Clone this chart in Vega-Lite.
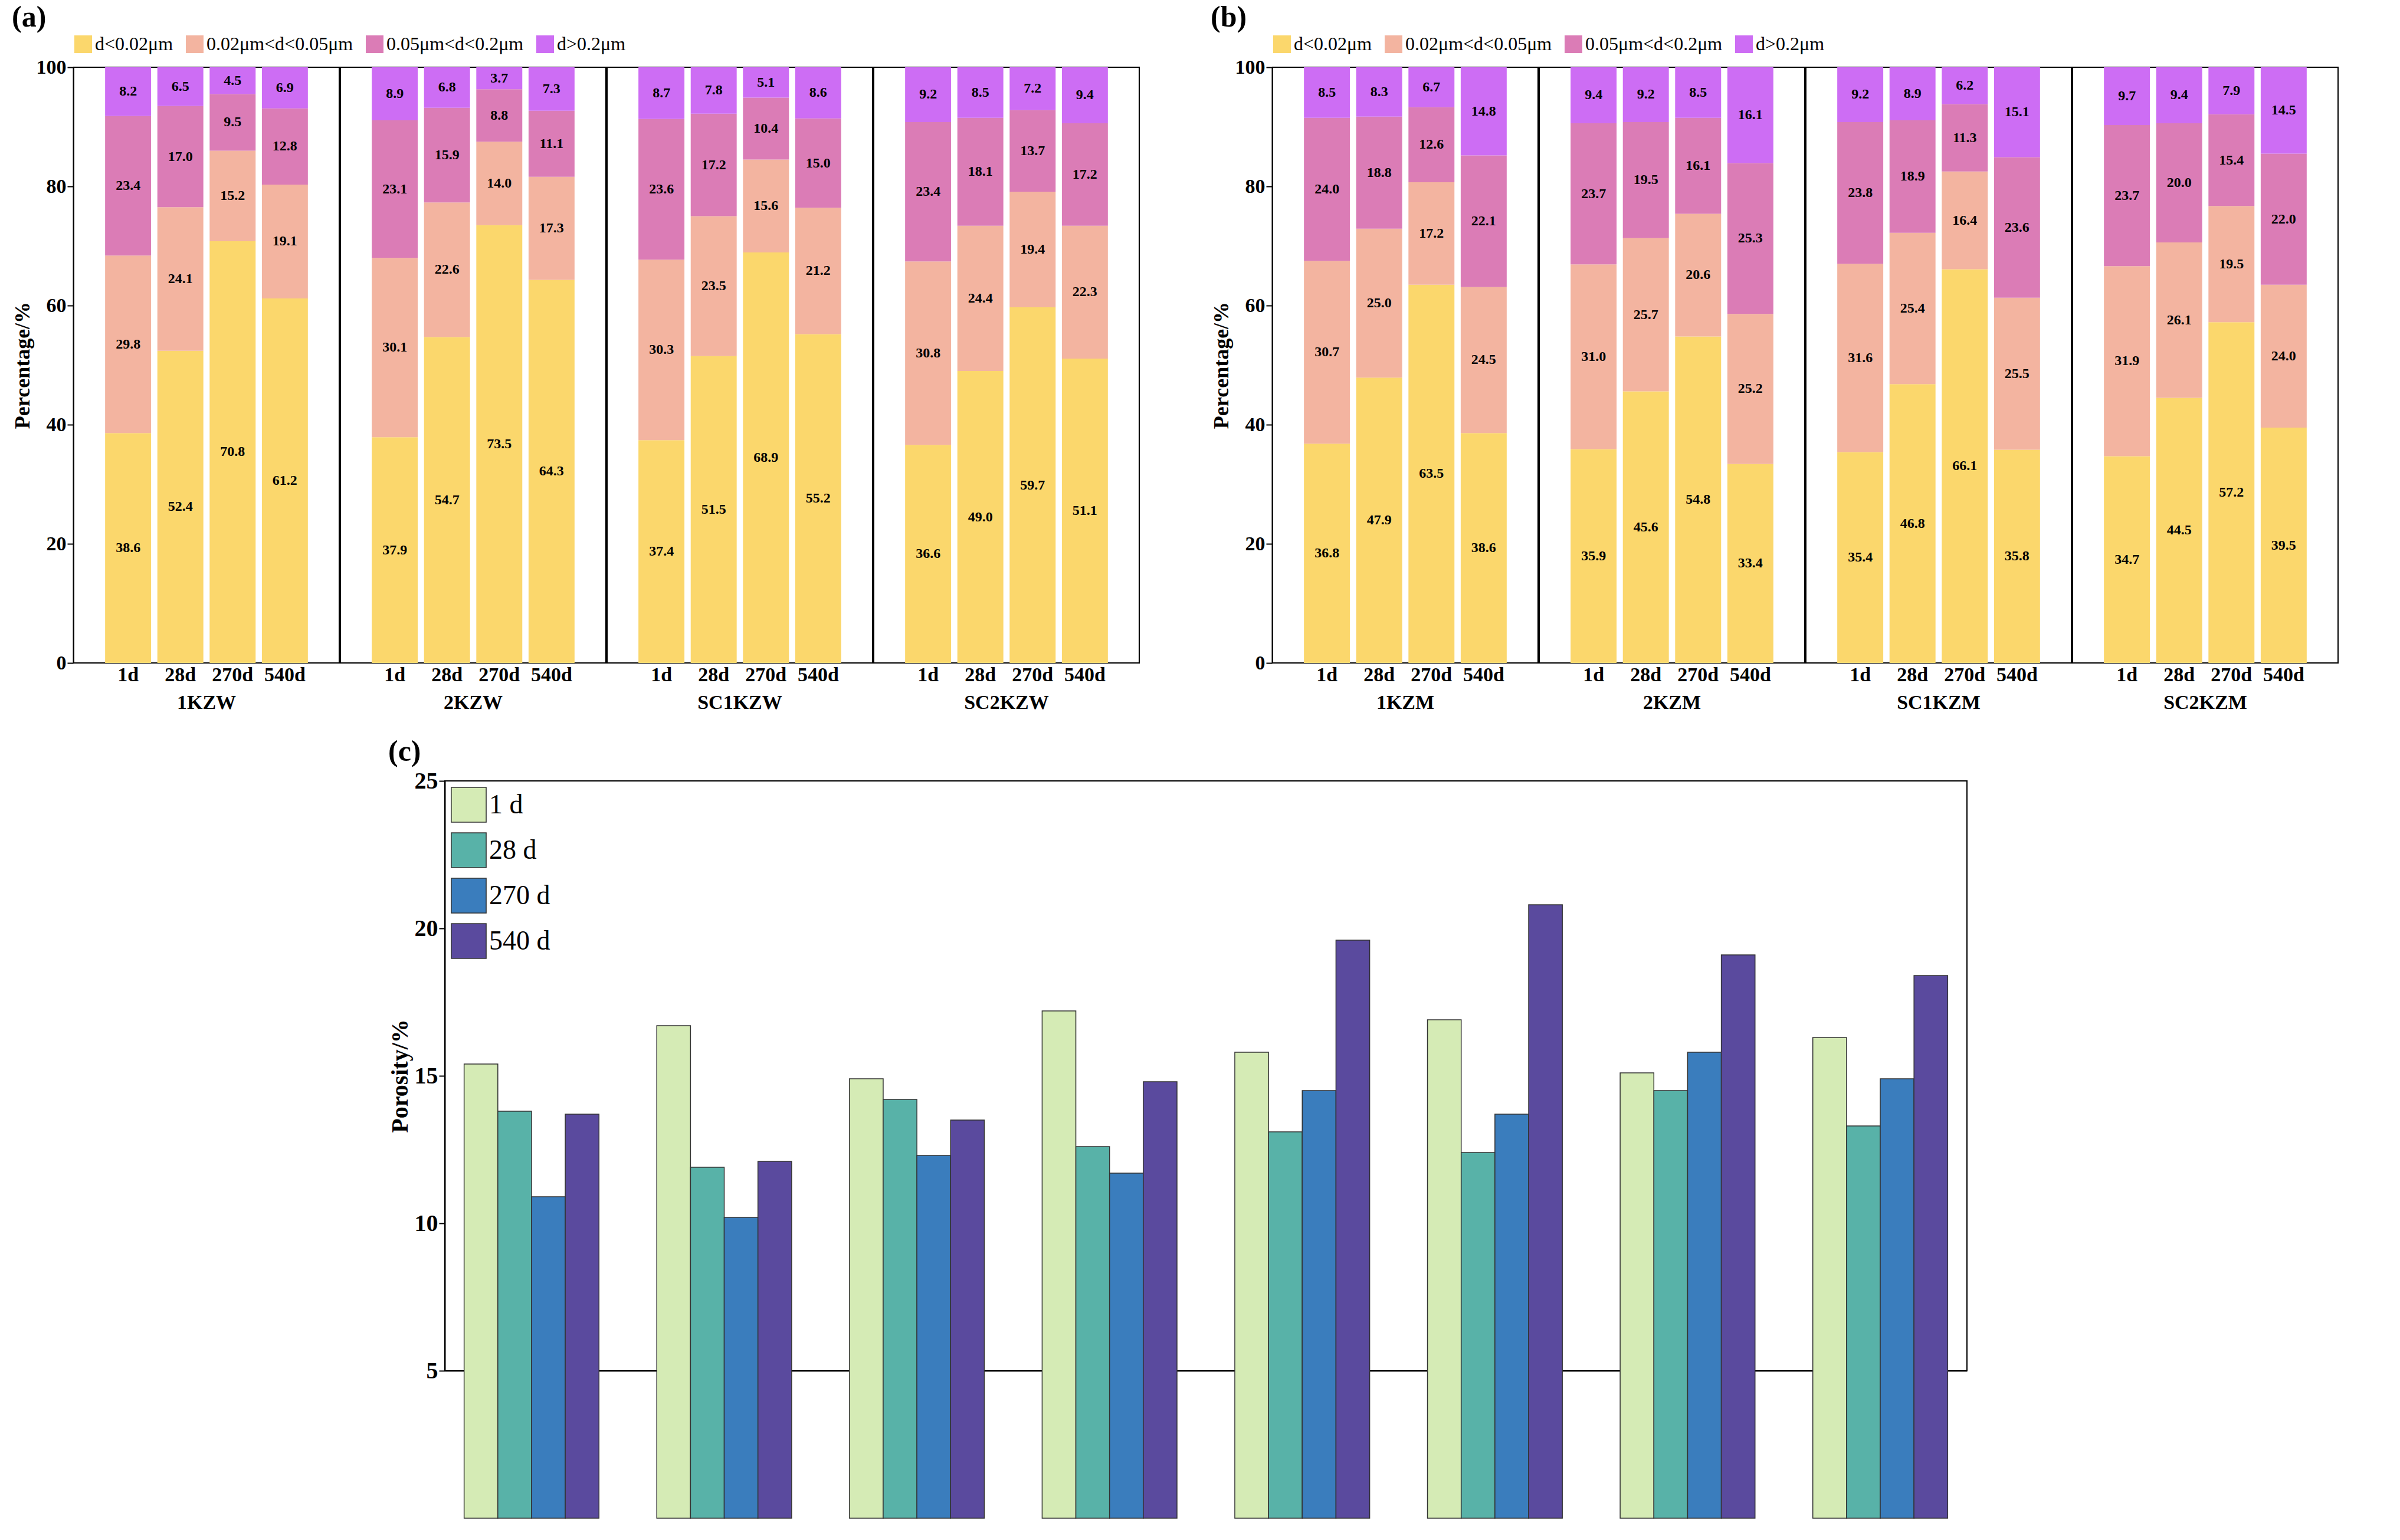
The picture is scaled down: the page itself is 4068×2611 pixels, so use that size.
{
  "$schema": "https://vega.github.io/schema/vega-lite/v6.json",
  "background": "white",
  "padding": {"left": 20, "top": 5, "right": 20, "bottom": 5},
  "config": {
    "font": "Liberation Serif",
    "view": {"stroke": "black", "strokeWidth": 2},
    "axis": {"grid": false, "domainColor": "black", "tickColor": "black", "labelColor": "black", "titleColor": "black", "labelFontSize": 34, "titleFontSize": 36, "labelFontWeight": "bold", "titleFontWeight": "bold", "domainWidth": 2, "tickWidth": 2, "tickSize": 10},
    "header": {"labelFontSize": 34, "labelFontWeight": "bold", "labelColor": "black"},
    "legend": {"labelFontSize": 32, "labelColor": "black", "labelLimit": 0, "symbolType": "square", "symbolSize": 900, "symbolStrokeWidth": 0},
    "title": {"fontSize": 50, "fontWeight": "bold", "anchor": "start", "color": "black", "offset": 4}
  },
  "datasets": {
    "pores": [
      {"panel": "a", "group": "1KZW", "age": "1d", "s1": 38.6, "s2": 29.8, "s3": 23.4, "s4": 8.2},
      {"panel": "a", "group": "1KZW", "age": "28d", "s1": 52.4, "s2": 24.1, "s3": 17.0, "s4": 6.5},
      {"panel": "a", "group": "1KZW", "age": "270d", "s1": 70.8, "s2": 15.2, "s3": 9.5, "s4": 4.5},
      {"panel": "a", "group": "1KZW", "age": "540d", "s1": 61.2, "s2": 19.1, "s3": 12.8, "s4": 6.9},
      {"panel": "a", "group": "2KZW", "age": "1d", "s1": 37.9, "s2": 30.1, "s3": 23.1, "s4": 8.9},
      {"panel": "a", "group": "2KZW", "age": "28d", "s1": 54.7, "s2": 22.6, "s3": 15.9, "s4": 6.8},
      {"panel": "a", "group": "2KZW", "age": "270d", "s1": 73.5, "s2": 14.0, "s3": 8.8, "s4": 3.7},
      {"panel": "a", "group": "2KZW", "age": "540d", "s1": 64.3, "s2": 17.3, "s3": 11.1, "s4": 7.3},
      {"panel": "a", "group": "SC1KZW", "age": "1d", "s1": 37.4, "s2": 30.3, "s3": 23.6, "s4": 8.7},
      {"panel": "a", "group": "SC1KZW", "age": "28d", "s1": 51.5, "s2": 23.5, "s3": 17.2, "s4": 7.8},
      {"panel": "a", "group": "SC1KZW", "age": "270d", "s1": 68.9, "s2": 15.6, "s3": 10.4, "s4": 5.1},
      {"panel": "a", "group": "SC1KZW", "age": "540d", "s1": 55.2, "s2": 21.2, "s3": 15.0, "s4": 8.6},
      {"panel": "a", "group": "SC2KZW", "age": "1d", "s1": 36.6, "s2": 30.8, "s3": 23.4, "s4": 9.2},
      {"panel": "a", "group": "SC2KZW", "age": "28d", "s1": 49.0, "s2": 24.4, "s3": 18.1, "s4": 8.5},
      {"panel": "a", "group": "SC2KZW", "age": "270d", "s1": 59.7, "s2": 19.4, "s3": 13.7, "s4": 7.2},
      {"panel": "a", "group": "SC2KZW", "age": "540d", "s1": 51.1, "s2": 22.3, "s3": 17.2, "s4": 9.4},
      {"panel": "b", "group": "1KZM", "age": "1d", "s1": 36.8, "s2": 30.7, "s3": 24.0, "s4": 8.5},
      {"panel": "b", "group": "1KZM", "age": "28d", "s1": 47.9, "s2": 25.0, "s3": 18.8, "s4": 8.3},
      {"panel": "b", "group": "1KZM", "age": "270d", "s1": 63.5, "s2": 17.2, "s3": 12.6, "s4": 6.7},
      {"panel": "b", "group": "1KZM", "age": "540d", "s1": 38.6, "s2": 24.5, "s3": 22.1, "s4": 14.8},
      {"panel": "b", "group": "2KZM", "age": "1d", "s1": 35.9, "s2": 31.0, "s3": 23.7, "s4": 9.4},
      {"panel": "b", "group": "2KZM", "age": "28d", "s1": 45.6, "s2": 25.7, "s3": 19.5, "s4": 9.2},
      {"panel": "b", "group": "2KZM", "age": "270d", "s1": 54.8, "s2": 20.6, "s3": 16.1, "s4": 8.5},
      {"panel": "b", "group": "2KZM", "age": "540d", "s1": 33.4, "s2": 25.2, "s3": 25.3, "s4": 16.1},
      {"panel": "b", "group": "SC1KZM", "age": "1d", "s1": 35.4, "s2": 31.6, "s3": 23.8, "s4": 9.2},
      {"panel": "b", "group": "SC1KZM", "age": "28d", "s1": 46.8, "s2": 25.4, "s3": 18.9, "s4": 8.9},
      {"panel": "b", "group": "SC1KZM", "age": "270d", "s1": 66.1, "s2": 16.4, "s3": 11.3, "s4": 6.2},
      {"panel": "b", "group": "SC1KZM", "age": "540d", "s1": 35.8, "s2": 25.5, "s3": 23.6, "s4": 15.1},
      {"panel": "b", "group": "SC2KZM", "age": "1d", "s1": 34.7, "s2": 31.9, "s3": 23.7, "s4": 9.7},
      {"panel": "b", "group": "SC2KZM", "age": "28d", "s1": 44.5, "s2": 26.1, "s3": 20.0, "s4": 9.4},
      {"panel": "b", "group": "SC2KZM", "age": "270d", "s1": 57.2, "s2": 19.5, "s3": 15.4, "s4": 7.9},
      {"panel": "b", "group": "SC2KZM", "age": "540d", "s1": 39.5, "s2": 24.0, "s3": 22.0, "s4": 14.5}
    ],
    "porosity": [
      {"group": "1KZW", "age": "1 d", "value": 15.4}, {"group": "1KZW", "age": "28 d", "value": 13.8}, {"group": "1KZW", "age": "270 d", "value": 10.9}, {"group": "1KZW", "age": "540 d", "value": 13.7},
      {"group": "2KZW", "age": "1 d", "value": 16.7}, {"group": "2KZW", "age": "28 d", "value": 11.9}, {"group": "2KZW", "age": "270 d", "value": 10.2}, {"group": "2KZW", "age": "540 d", "value": 12.1},
      {"group": "SC1KZW", "age": "1 d", "value": 14.9}, {"group": "SC1KZW", "age": "28 d", "value": 14.2}, {"group": "SC1KZW", "age": "270 d", "value": 12.3}, {"group": "SC1KZW", "age": "540 d", "value": 13.5},
      {"group": "SC2KZW", "age": "1 d", "value": 17.2}, {"group": "SC2KZW", "age": "28 d", "value": 12.6}, {"group": "SC2KZW", "age": "270 d", "value": 11.7}, {"group": "SC2KZW", "age": "540 d", "value": 14.8},
      {"group": "1KZM", "age": "1 d", "value": 15.8}, {"group": "1KZM", "age": "28 d", "value": 13.1}, {"group": "1KZM", "age": "270 d", "value": 14.5}, {"group": "1KZM", "age": "540 d", "value": 19.6},
      {"group": "2KZM", "age": "1 d", "value": 16.9}, {"group": "2KZM", "age": "28 d", "value": 12.4}, {"group": "2KZM", "age": "270 d", "value": 13.7}, {"group": "2KZM", "age": "540 d", "value": 20.8},
      {"group": "SC1KZM", "age": "1 d", "value": 15.1}, {"group": "SC1KZM", "age": "28 d", "value": 14.5}, {"group": "SC1KZM", "age": "270 d", "value": 15.8}, {"group": "SC1KZM", "age": "540 d", "value": 19.1},
      {"group": "SC2KZM", "age": "1 d", "value": 16.3}, {"group": "SC2KZM", "age": "28 d", "value": 13.3}, {"group": "SC2KZM", "age": "270 d", "value": 14.9}, {"group": "SC2KZM", "age": "540 d", "value": 18.4}
    ]
  },
  "resolve": {"scale": {"color": "independent"}},
  "vconcat": [
    {
      "spacing": 120,
      "resolve": {"scale": {"color": "independent"}},
      "hconcat": [
        {
          "title": "(a)",
          "data": {"name": "pores"},
          "transform": [
            {"filter": "datum.panel == 'a'"},
            {"fold": ["s1", "s2", "s3", "s4"], "as": ["cls", "value"]},
            {"calculate": "{'s1': 'd<0.02μm', 's2': '0.02μm<d<0.05μm', 's3': '0.05μm<d<0.2μm', 's4': 'd>0.2μm'}[datum.cls]", "as": "size"},
            {"stack": "value", "groupby": ["group", "age"], "sort": [{"field": "cls"}], "as": ["y0", "y1"]},
            {"calculate": "(datum.y0 + datum.y1) / 2", "as": "ym"}
          ],
          "facet": {"column": {"field": "group", "sort": ["1KZW", "2KZW", "SC1KZW", "SC2KZW"], "title": null, "header": {"labelOrient": "bottom", "labelPadding": 14}}},
          "spacing": 0,
          "spec": {
            "width": 450,
            "height": 1010,
            "encoding": {
              "x": {"field": "age", "type": "nominal", "sort": ["1d", "28d", "270d", "540d"], "title": null, "scale": {"paddingInner": 0.12, "paddingOuter": 0.6}, "axis": {"labelAngle": 0, "ticks": false, "domain": false}}
            },
            "layer": [
              {
                "mark": {"type": "bar"},
                "encoding": {
                  "y": {"field": "y0", "type": "quantitative", "scale": {"domain": [0, 100], "nice": false}, "title": "Percentage/%", "axis": {"values": [0, 20, 40, 60, 80, 100]}},
                  "y2": {"field": "y1"},
                  "color": {"field": "size", "type": "nominal", "sort": ["d<0.02μm", "0.02μm<d<0.05μm", "0.05μm<d<0.2μm", "d>0.2μm"], "scale": {"domain": ["d<0.02μm", "0.02μm<d<0.05μm", "0.05μm<d<0.2μm", "d>0.2μm"], "range": ["#FBD76C", "#F3B4A0", "#DB7CB6", "#CD6DF4"]}, "legend": {"orient": "top", "direction": "horizontal", "title": null, "columnPadding": 20, "offset": 6}}
                }
              },
              {
                "mark": {"type": "text", "fontSize": 24, "fontWeight": "bold", "color": "black"},
                "encoding": {
                  "y": {"field": "ym", "type": "quantitative"},
                  "text": {"field": "value", "type": "quantitative", "format": ".1f"}
                }
              }
            ]
          }
        },
        {
          "title": "(b)",
          "data": {"name": "pores"},
          "transform": [
            {"filter": "datum.panel == 'b'"},
            {"fold": ["s1", "s2", "s3", "s4"], "as": ["cls", "value"]},
            {"calculate": "{'s1': 'd<0.02μm', 's2': '0.02μm<d<0.05μm', 's3': '0.05μm<d<0.2μm', 's4': 'd>0.2μm'}[datum.cls]", "as": "size"},
            {"stack": "value", "groupby": ["group", "age"], "sort": [{"field": "cls"}], "as": ["y0", "y1"]},
            {"calculate": "(datum.y0 + datum.y1) / 2", "as": "ym"}
          ],
          "facet": {"column": {"field": "group", "sort": ["1KZM", "2KZM", "SC1KZM", "SC2KZM"], "title": null, "header": {"labelOrient": "bottom", "labelPadding": 14}}},
          "spacing": 0,
          "spec": {
            "width": 450,
            "height": 1010,
            "encoding": {
              "x": {"field": "age", "type": "nominal", "sort": ["1d", "28d", "270d", "540d"], "title": null, "scale": {"paddingInner": 0.12, "paddingOuter": 0.6}, "axis": {"labelAngle": 0, "ticks": false, "domain": false}}
            },
            "layer": [
              {
                "mark": {"type": "bar"},
                "encoding": {
                  "y": {"field": "y0", "type": "quantitative", "scale": {"domain": [0, 100], "nice": false}, "title": "Percentage/%", "axis": {"values": [0, 20, 40, 60, 80, 100]}},
                  "y2": {"field": "y1"},
                  "color": {"field": "size", "type": "nominal", "sort": ["d<0.02μm", "0.02μm<d<0.05μm", "0.05μm<d<0.2μm", "d>0.2μm"], "scale": {"domain": ["d<0.02μm", "0.02μm<d<0.05μm", "0.05μm<d<0.2μm", "d>0.2μm"], "range": ["#FBD76C", "#F3B4A0", "#DB7CB6", "#CD6DF4"]}, "legend": {"orient": "top", "direction": "horizontal", "title": null, "columnPadding": 20, "offset": 6}}
                }
              },
              {
                "mark": {"type": "text", "fontSize": 24, "fontWeight": "bold", "color": "black"},
                "encoding": {
                  "y": {"field": "ym", "type": "quantitative"},
                  "text": {"field": "value", "type": "quantitative", "format": ".1f"}
                }
              }
            ]
          }
        }
      ]
    },
    {
      "title": "(c)",
      "width": 2580,
      "height": 1000,
      "data": {"name": "porosity"},
      "mark": {"type": "bar", "stroke": "#333333", "strokeWidth": 1.5},
      "encoding": {
        "x": {"field": "group", "type": "nominal", "sort": ["1KZW", "2KZW", "SC1KZW", "SC2KZW", "1KZM", "2KZM", "SC1KZM", "SC2KZM"], "title": null, "scale": {"paddingInner": 0.3, "paddingOuter": 0.1}, "axis": {"labelAngle": 0, "ticks": false, "labelPadding": 14, "labelFontSize": 40}},
        "xOffset": {"field": "age", "type": "nominal", "sort": ["1 d", "28 d", "270 d", "540 d"]},
        "y": {"field": "value", "type": "quantitative", "title": "Porosity/%", "scale": {"domain": [5, 25], "nice": false, "zero": false}, "axis": {"values": [5, 10, 15, 20, 25], "labelFontSize": 40, "titleFontSize": 40}},
        "color": {"field": "age", "type": "nominal", "sort": ["1 d", "28 d", "270 d", "540 d"], "scale": {"domain": ["1 d", "28 d", "270 d", "540 d"], "range": ["#D5EBB5", "#58B2A8", "#3A7DBD", "#5A4A9E"]}, "legend": {"orient": "top-left", "title": null, "labelFontSize": 46, "labelFontWeight": "normal", "symbolSize": 3500, "symbolStrokeColor": "#333333", "symbolStrokeWidth": 1.5, "rowPadding": 10, "offset": 10}}
      }
    }
  ],
  "center": true,
  "spacing": 40
}
